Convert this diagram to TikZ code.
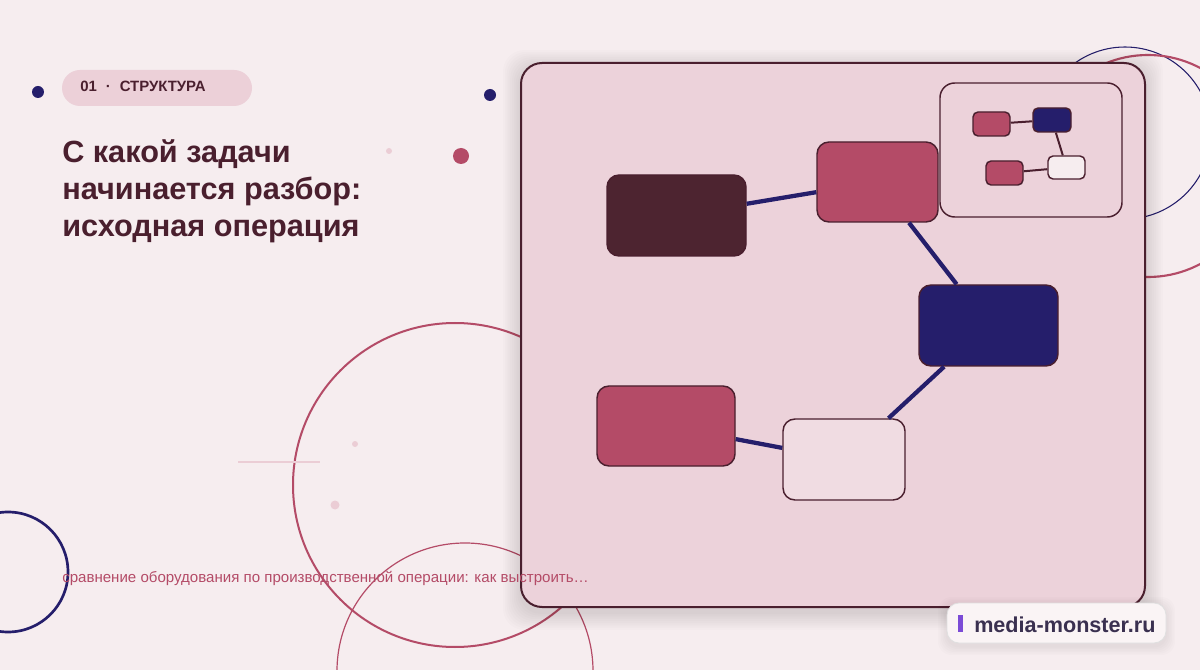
\documentclass[tikz,border=0pt]{standalone}
\usepackage{fontspec}
\setmainfont{Liberation Sans}
\definecolor{bg}{HTML}{F6EDEF}
\definecolor{cardc}{HTML}{ECD2DA}
\definecolor{dk}{HTML}{4A1F2E}
\definecolor{darkn}{HTML}{4D2430}
\definecolor{crim}{HTML}{B44B67}
\definecolor{navy}{HTML}{251E6B}
\definecolor{whiten}{HTML}{F0DCE2}
\definecolor{pillc}{HTML}{ECD0D8}
\definecolor{lightp}{HTML}{EBCDD5}
\definecolor{wmtext}{HTML}{3A3050}
\definecolor{purp}{HTML}{7B4BD6}
\tikzset{
  nbox/.style 2 args={draw=dk, line width=1.1pt, rounded corners=9pt, minimum width=#1*0.75pt, minimum height=#2*0.75pt, inner sep=0pt},
  mbox/.style 2 args={draw=dk, line width=1.1pt, rounded corners=3.8pt, minimum width=#1*0.75pt, minimum height=#2*0.75pt, inner sep=0pt},
  edge/.style={draw=navy, line width=3.2pt},
  medge/.style={draw=dk, line width=1.5pt},
  dot/.style={circle, inner sep=0pt, minimum size=#1*0.75pt},
}
\begin{document}
\begin{tikzpicture}[x=0.75pt,y=-0.75pt]
\useasboundingbox (0,0) rectangle (1200,670);
\fill[bg] (0,0) rectangle (1200,670);
\clip (0,0) rectangle (1200,670);
% decorative circles
\draw[crim, line width=1.5pt] (455,485) circle[radius=162];
\draw[crim, line width=0.9pt] (465,671) circle[radius=128];
\draw[navy, line width=2pt] (8,572) circle[radius=60];
\draw[navy, line width=0.8pt] (1125,133) circle[radius=86];
\draw[crim, line width=1.6pt] (1148,166) circle[radius=111];
\draw[lightp, line width=1.5pt] (238,462) -- (320,462);
% dots
\node[dot=12, fill=navy] (d1) at (38,92) {};
\node[dot=12, fill=navy] (d2) at (490,95) {};
\node[dot=16, fill=crim] (d3) at (461,156) {};
\node[dot=6, fill=lightp] (d4) at (389,151) {};
\node[dot=6, fill=lightp] (d5) at (355,444) {};
\node[dot=9, fill=lightp] (d6) at (335,505) {};
% pill
\node[fill=pillc, rounded corners=13.5pt, minimum width=190*0.75pt, minimum height=36*0.75pt, inner sep=0pt] (pill) at (157,88) {};
\node[anchor=base west, inner sep=0pt, text=dk, font=\bfseries\fontsize{11.2pt}{13pt}\selectfont] (pilltxt) at (80,92) {01\hspace{0.6em}·\hspace{0.6em}СТРУКТУРА};
% title
\node[anchor=base west, inner sep=0pt, text=dk, align=left, font=\bfseries\fontsize{23pt}{27.75pt}\selectfont] (title) at (62,237) {С какой задачи\\начинается разбор:\\исходная операция};
% card shadow
\foreach \i in {1,...,10}
  \fill[black, opacity=0.01, rounded corners=16pt] (521-\i*1.8,63-\i*1.8+5) rectangle (1145+\i*1.8,607+\i*1.8+5);
\draw[dk, fill=cardc, line width=1.5pt, rounded corners=15.75pt] (521,63) rectangle (1145,607);
% bottom text (drawn over the card)
\node[anchor=base west, inner sep=0pt, text=crim, font=\fontsize{11.3pt}{13pt}\selectfont] (sub) at (62,582) {сравнение оборудования по производственной операции: как выстроить…};
% inset panel
\draw[dk, line width=1.1pt, rounded corners=11pt] (940,83) rectangle (1122,217);
% mini graph
\node[mbox={37}{24}, fill=crim] (m1) at (991.5,124) {};
\node[mbox={38}{24}, fill=navy] (m2) at (1052,120) {};
\node[mbox={37}{24}, fill=crim] (m3) at (1004.5,173) {};
\node[mbox={37}{23}, fill=bg] (m4) at (1066.5,167.5) {};
\draw[medge] (m1) -- (m2);
\draw[medge] (m2) -- (m4);
\draw[medge] (m3) -- (m4);
% main graph
\node[nbox={139}{81}, fill=darkn] (n1) at (676.5,215.5) {};
\node[nbox={121}{80}, fill=crim] (n2) at (877.5,182) {};
\node[nbox={139}{81}, fill=navy] (n3) at (988.5,325.5) {};
\node[nbox={138}{80}, fill=crim] (n4) at (666,426) {};
\node[nbox={122}{81}, fill=whiten] (n5) at (844,459.5) {};
\draw[edge] (n1) -- (n2);
\draw[edge] (n2) -- (n3);
\draw[edge] (n3) -- (n5);
\draw[edge] (n4) -- (n5);
% watermark
\foreach \i in {1,...,6}
  \fill[black, opacity=0.01, rounded corners=10pt] (947-\i*1.5,603-\i*1.5+3) rectangle (1166+\i*1.5,643+\i*1.5+3);
\draw[draw=black!12, fill=bg!60!white, line width=0.6pt, rounded corners=9pt] (947,603) rectangle (1166,643);
\fill[purp] (958,615) rectangle (963,632);
\node[anchor=base west, inner sep=0pt, text=wmtext, font=\bfseries\fontsize{16.2pt}{18pt}\selectfont] (wm) at (974,632) {media-monster.ru};
\end{tikzpicture}
\end{document}
